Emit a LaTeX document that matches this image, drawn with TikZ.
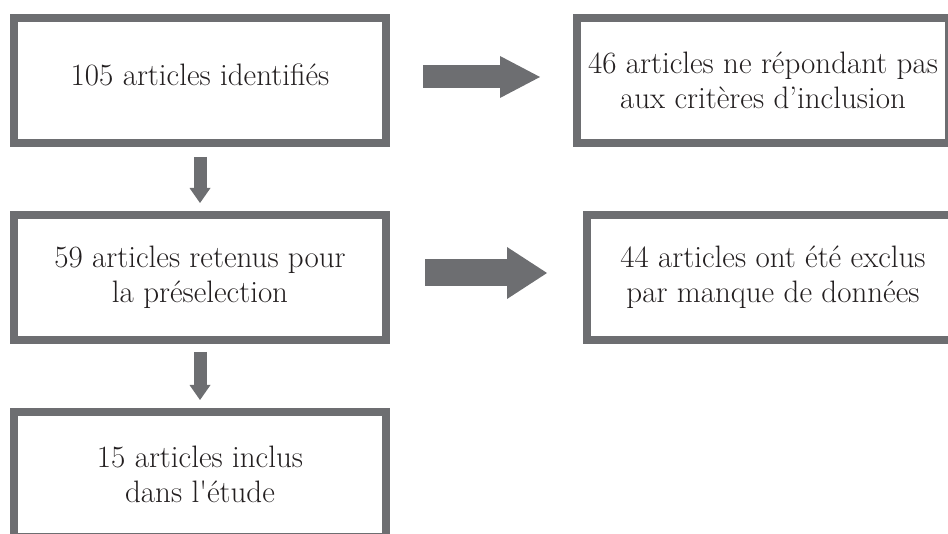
\documentclass[tikz,border=0pt]{standalone}
\usetikzlibrary{positioning,arrows.meta}
\definecolor{boxgray}{RGB}{109,110,113}
\definecolor{txtblack}{RGB}{35,31,32}
\begin{document}
\begin{tikzpicture}[x=1pt,y=-1pt,
    box/.style={draw=boxgray, line width=8pt, minimum width=372pt, minimum height=125pt,
        align=center, text=txtblack, font=\fontsize{31}{35}\selectfont},
    darr/.style={draw=boxgray, line width=13pt, -{Triangle[width=21pt,length=15pt,line width=0pt]}},
    rarr/.style 2 args={draw=boxgray, line width=#1, -{Triangle[width=#2,length=40pt,line width=0pt]}}
]
    \useasboundingbox (0,0) rectangle (948,534);
    \clip (0,0) rectangle (948,534);

    \node[box, text depth=12pt] (ident) at (200,80.5) {105 articles identifiés};
    \node[box, below=64pt of ident] (presel) {59 articles retenus pour\\la préselection};
    \node[box, below=64pt of presel] (inclus) {15 articles inclus\\dans l\textquotesingle étude};

    \node[box, right=183pt of ident] (noncrit) {46 articles ne répondant pas\\aux critères d’inclusion};
    \node[box, right=193pt of presel] (manque) {44 articles ont été exclus\\par manque de données};

    % vertical flow
    \draw[darr, shorten <=10pt, shorten >=8pt] (ident.south) -- (presel.north);
    \draw[darr, shorten <=8pt, shorten >=8pt] (presel.south) -- (inclus.north);

    % exclusions
    \draw[rarr={23pt}{42pt}, shorten <=33pt, shorten >=33pt] ([yshift=3.5pt]ident.east) -- ([yshift=3.5pt]noncrit.west);
    \draw[rarr={27pt}{52pt}, shorten <=35pt, shorten >=36pt] ([yshift=4.5pt]presel.east) -- ([yshift=4.5pt]manque.west);
\end{tikzpicture}
\end{document}
